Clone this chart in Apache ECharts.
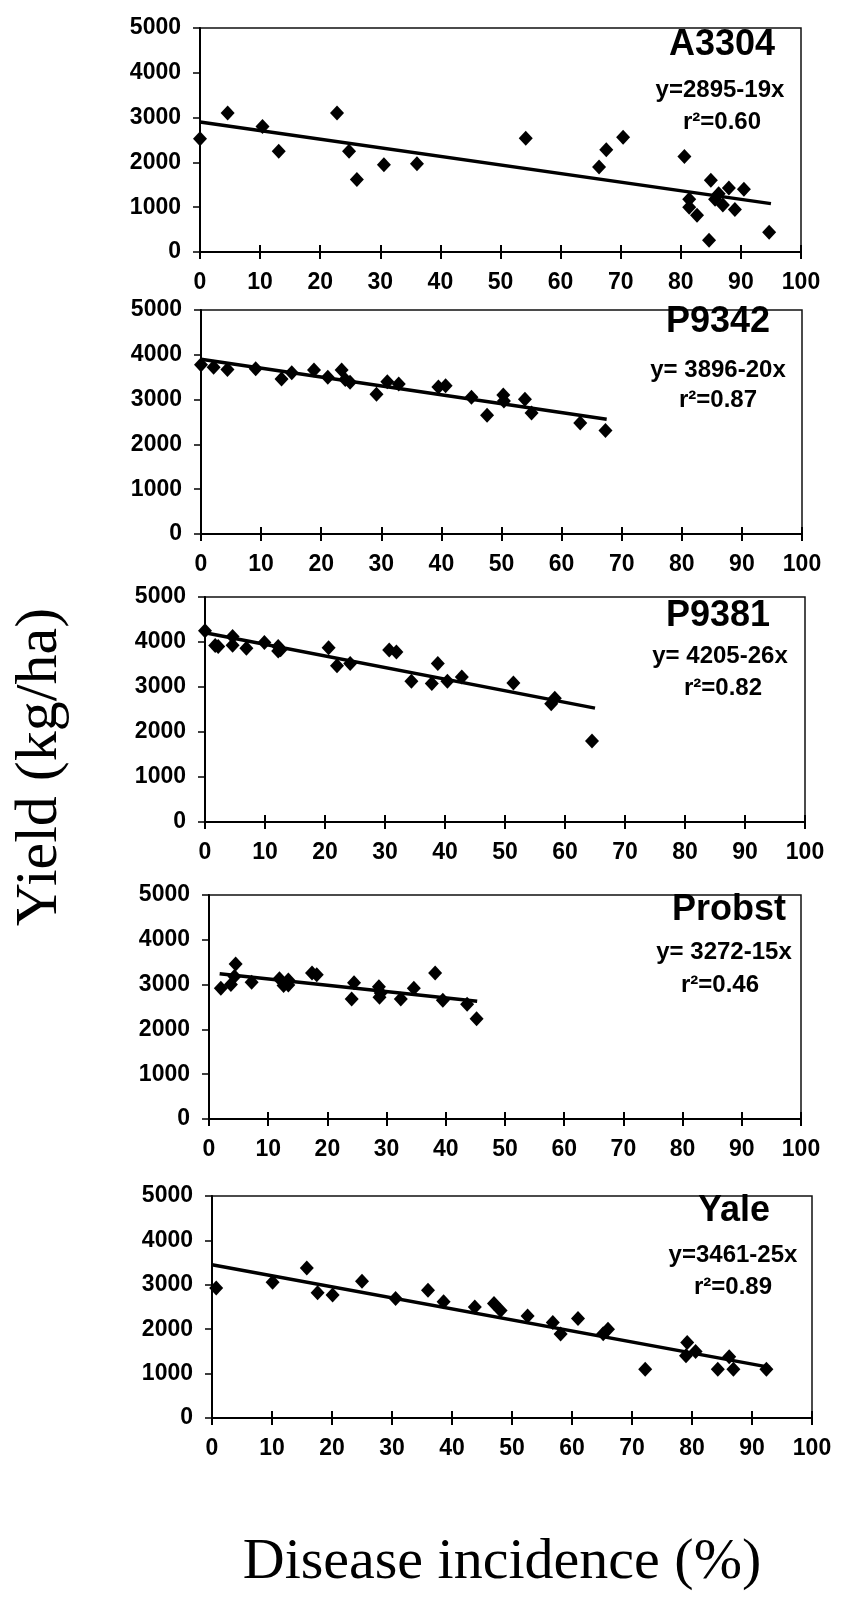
<!DOCTYPE html>
<html>
<head>
<meta charset="utf-8">
<script src="https://cdn.jsdelivr.net/npm/echarts@6/dist/echarts.min.js"></script>
<style>
html,body{margin:0;padding:0;background:#fff;}
#chart{width:843px;height:1611px;}
</style>
</head>
<body>
<div id="chart"></div>
<script>
// ---- data ----
const xTickValues = [0, 10, 20, 30, 40, 50, 60, 70, 80, 90, 100];
const yTickValues = [0, 1000, 2000, 3000, 4000, 5000];
const panelNames = ['A3304', 'P9342', 'P9381', 'Probst', 'Yale'];
const equations = ['y=2895-19x', 'y= 3896-20x', 'y= 4205-26x', 'y= 3272-15x', 'y=3461-25x'];
const r2Labels = ['r\u00B2=0.60', 'r\u00B2=0.87', 'r\u00B2=0.82', 'r\u00B2=0.46', 'r\u00B2=0.89'];
const yTitle = 'Yield (kg/ha)';
const xTitle = 'Disease incidence (%)';

const a3304Points = [
  [0, 2530], [4.6, 3100], [10.4, 2800], [13.1, 2250], [22.8, 3100], [24.8, 2250],
  [26.1, 1620], [30.6, 1950], [36.1, 1970], [54.2, 2540], [66.4, 1900], [67.6, 2280],
  [70.4, 2560], [80.6, 2130], [81.4, 1180], [81.4, 1000], [82.7, 820], [84.7, 260],
  [85.0, 1600], [85.7, 1180], [86.3, 1300], [87.0, 1050], [88.0, 1430], [89.0, 950],
  [90.5, 1400], [94.7, 440]
];
const a3304Fit = [[0, 2900], [95, 1080]];

const p9342Points = [
  [0, 3780], [2.1, 3720], [4.4, 3670], [9.1, 3690], [13.4, 3460], [15.1, 3600],
  [18.8, 3660], [21.1, 3500], [23.4, 3660], [24.0, 3450], [24.8, 3390], [29.2, 3120],
  [31.0, 3400], [32.9, 3350], [39.5, 3280], [40.7, 3310], [45.0, 3050], [47.6, 2650],
  [50.3, 3100], [50.4, 2970], [53.9, 3010], [55.0, 2700], [63.1, 2480], [67.3, 2310]
];
const p9342Fit = [[0, 3900], [67.5, 2560]];

const p9381Points = [
  [0, 4250], [1.7, 3920], [2.2, 3900], [4.6, 4120], [4.6, 3930], [6.9, 3860],
  [9.9, 3990], [12.2, 3900], [12.2, 3800], [12.6, 3830], [20.6, 3870], [22.0, 3470],
  [24.2, 3520], [30.7, 3820], [31.9, 3780], [34.4, 3130], [37.8, 3080], [38.8, 3520],
  [40.4, 3130], [42.8, 3220], [51.4, 3090], [57.7, 2630], [58.3, 2750], [64.5, 1800]
];
const p9381Fit = [[0, 4205], [65, 2530]];

const probstPoints = [
  [2.0, 2920], [3.7, 3000], [4.3, 3180], [4.5, 3460], [7.2, 3050], [11.9, 3130],
  [12.6, 2980], [13.4, 3100], [13.4, 2990], [17.4, 3260], [18.2, 3220], [24.1, 2680],
  [24.5, 3040], [28.7, 2950], [28.8, 2720], [29.0, 2810], [32.4, 2680], [34.6, 2920],
  [38.2, 3260], [39.5, 2650], [43.6, 2560], [45.2, 2240]
];
const probstFit = [[1.8, 3240], [45.3, 2630]];

const yalePoints = [
  [0.7, 2930], [10.1, 3060], [15.8, 3380], [17.6, 2820], [20.1, 2770], [25.0, 3080],
  [30.6, 2690], [36.0, 2880], [38.6, 2620], [43.8, 2500], [47.0, 2580], [48.1, 2420],
  [52.6, 2300], [56.8, 2150], [58.1, 1890], [61.0, 2240], [65.2, 1900], [66.0, 2000],
  [72.2, 1100], [79.2, 1700], [79.0, 1400], [80.6, 1500], [84.3, 1100], [86.2, 1380],
  [86.9, 1100], [92.4, 1100]
];
const yaleFit = [[0, 3450], [93, 1140]];

const panelPoints = [a3304Points, p9342Points, p9381Points, probstPoints, yalePoints];
const panelFits = [a3304Fit, p9342Fit, p9381Fit, probstFit, yaleFit];

// ---- layout (pixels) ----
const gridBoxes = [
  {left: 200, top: 28,   width: 601, height: 224},
  {left: 201, top: 310,  width: 601, height: 224},
  {left: 205, top: 597,  width: 600, height: 225},
  {left: 209, top: 895,  width: 592, height: 224},
  {left: 212, top: 1196, width: 600, height: 222}
];
const titlePos = [[775, 45], [770, 322], [770, 616], [786, 910], [770, 1211]];
const eqPos = [[720, 90], [718, 370], [720, 656], [724, 952], [733, 1255]];
const r2Pos = [[722, 122], [718, 400], [723, 688], [720, 985], [733, 1287]];

const FONT = '"Liberation Sans", Arial, Helvetica, sans-serif';
const SERIF = '"Liberation Serif", "Times New Roman", Times, serif';

const chart = echarts.init(document.getElementById('chart'), null, {renderer: 'canvas'});

const grids = [], xAxes = [], yAxes = [], series = [], graphics = [];
const xMin = xTickValues[0], xMax = xTickValues[xTickValues.length - 1];
const xStep = xTickValues[1] - xTickValues[0];
const yMin = yTickValues[0], yMax = yTickValues[yTickValues.length - 1];
const yStep = yTickValues[1] - yTickValues[0];
const plain = v => String(v);

gridBoxes.forEach((g, i) => {
  grids.push(Object.assign({
    show: true, borderColor: '#111', borderWidth: 1.5, backgroundColor: 'transparent',
    containLabel: false, outerBoundsMode: 'none'
  }, g));
  xAxes.push({
    type: 'value', gridIndex: i, position: 'bottom', min: xMin, max: xMax, interval: xStep,
    axisLine: {show: true, onZero: false, lineStyle: {color: '#000', width: 2}},
    axisTick: {show: true, inside: false, length: 7, lineStyle: {color: '#000', width: 2}},
    axisLabel: {show: true, margin: 19, color: '#000', fontFamily: FONT, fontWeight: 'bold', fontSize: 23,
      formatter: plain, showMinLabel: true, showMaxLabel: true, hideOverlap: false},
    splitLine: {show: false}
  });
  yAxes.push({
    type: 'value', gridIndex: i, min: yMin, max: yMax, interval: yStep,
    axisLine: {show: true, onZero: false, lineStyle: {color: '#000', width: 2}},
    axisTick: {show: true, inside: false, length: 7, lineStyle: {color: '#000', width: 1.5}},
    axisLabel: {show: true, margin: 19, color: '#000', fontFamily: FONT, fontWeight: 'bold', fontSize: 23,
      formatter: plain, showMinLabel: true, showMaxLabel: true, hideOverlap: false},
    splitLine: {show: false}
  });
});
// inner half of the crossing x ticks
gridBoxes.forEach((g, i) => {
  xAxes.push({
    type: 'value', gridIndex: i, position: 'bottom', min: xMin, max: xMax, interval: xStep,
    axisLine: {show: false},
    axisTick: {show: true, inside: true, length: 7, lineStyle: {color: '#000', width: 2}},
    axisLabel: {show: false},
    splitLine: {show: false}
  });
});

panelPoints.forEach((pts, i) => {
  series.push({
    type: 'line', xAxisIndex: i, yAxisIndex: i, data: panelFits[i],
    showSymbol: false, symbol: 'none', silent: true, animation: false,
    lineStyle: {color: '#000', width: 3.5, opacity: 1}, z: 2
  });
  series.push({
    type: 'scatter', xAxisIndex: i, yAxisIndex: i, data: pts,
    symbol: 'diamond', symbolSize: [14, 15], animation: false,
    itemStyle: {color: '#000', opacity: 1}, z: 3
  });
  graphics.push({
    type: 'text', x: titlePos[i][0], y: titlePos[i][1], z: 10,
    style: {text: panelNames[i], font: 'bold 36px ' + FONT, fill: '#000', textAlign: 'right', textVerticalAlign: 'middle'}
  });
  graphics.push({
    type: 'text', x: eqPos[i][0], y: eqPos[i][1], z: 10,
    style: {text: equations[i], font: 'bold 24px ' + FONT, fill: '#000', textAlign: 'center', textVerticalAlign: 'middle'}
  });
  graphics.push({
    type: 'text', x: r2Pos[i][0], y: r2Pos[i][1], z: 10,
    style: {text: r2Labels[i], font: 'bold 24px ' + FONT, fill: '#000', textAlign: 'center', textVerticalAlign: 'middle'}
  });
});

graphics.push({
  type: 'text', x: 40, y: 767, rotation: Math.PI / 2, z: 10,
  style: {text: yTitle, font: '60px ' + SERIF, fill: '#000', textAlign: 'center', textVerticalAlign: 'middle'}
});
graphics.push({
  type: 'text', x: 502, y: 1563, z: 10,
  style: {text: xTitle, font: '58px ' + SERIF, fill: '#000', textAlign: 'center', textVerticalAlign: 'middle'}
});

chart.setOption({
  backgroundColor: '#fff',
  animation: false,
  grid: grids,
  xAxis: xAxes,
  yAxis: yAxes,
  series: series,
  graphic: graphics
});
</script>
</body>
</html>
